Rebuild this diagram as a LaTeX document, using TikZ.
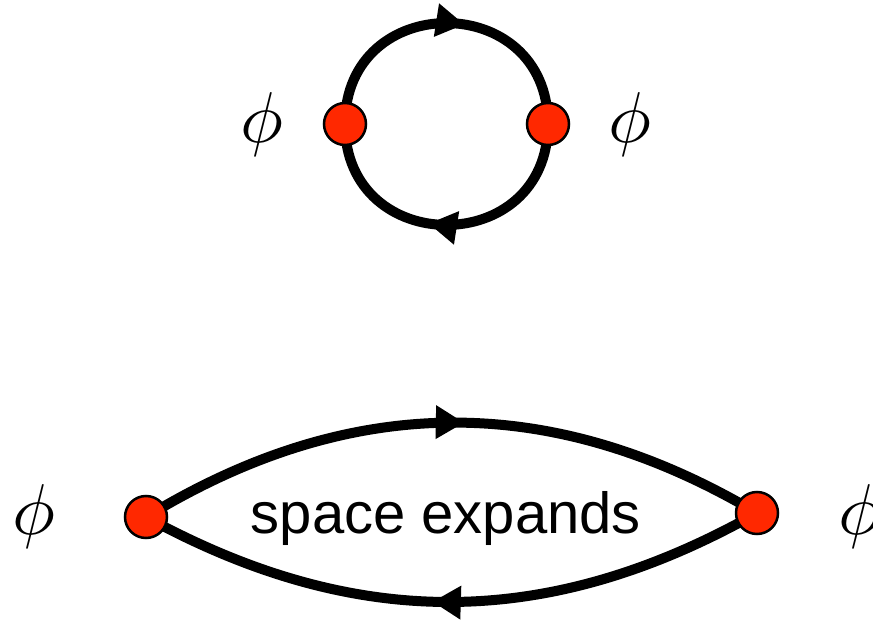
\documentclass[tikz,border=0pt]{standalone}
\usepackage{fontspec}
\newfontfamily\labelfont{Liberation Sans}
\usetikzlibrary{arrows.meta,decorations.markings,backgrounds}
\definecolor{vertexRed}{RGB}{255,40,0}

\begin{document}
\begin{tikzpicture}[
    x=1pt, y=1pt,
    vertex/.style={circle, draw=black, line width=2.5pt, fill=vertexRed,
                   minimum size=42pt, inner sep=0pt},
    field/.style={inner sep=0pt, scale=7.2},
    prop/.style={line width=10pt, draw=black},
    flow/.style={postaction={decorate}, decoration={markings,
        mark=at position #1 with {\arrow{Triangle[length=28pt,width=34pt,line width=0pt]}}}},
    flow/.default=0.55,
]
\useasboundingbox (0,0) rectangle (873,619);

% loop
\node[vertex] (tl) at (345,495) {};
\node[vertex] (tr) at (548,495) {};
\node[field] (tphil) at (262,494) {$\phi$};
\node[field] (tphir) at (630,494) {$\phi$};

% stretched loop
\node[vertex] (bl) at (146,102) {};
\node[vertex] (br) at (757,106) {};
\node[field] (bphil) at (34,102) {$\phi$};
\node[field] (bphir) at (860,102) {$\phi$};
\node[anchor=base, font=\labelfont\fontsize{58}{64}\selectfont] (space) at (446,86) {space expands};

\begin{scope}[on background layer]
\draw[prop, flow=0.555] (tl.center) to[out=90, in=90, looseness=1.70] (tr.center);
\draw[prop, flow=0.555] (tr.center) to[out=-90, in=-90, looseness=1.70] (tl.center);
\draw[prop, flow=0.52] (bl.center) to[bend left=31] (br.center);
\draw[prop, flow=0.53] (br.center) to[bend left=29] (bl.center);
\end{scope}
\end{tikzpicture}
\end{document}
